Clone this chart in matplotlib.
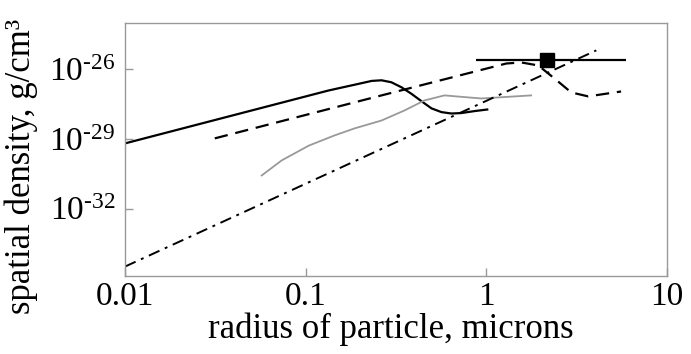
import matplotlib
matplotlib.use("Agg")
import matplotlib.pyplot as plt
from matplotlib.ticker import FixedLocator, FuncFormatter
import numpy as np

plt.rcParams['font.family'] = ['Liberation Serif', 'DejaVu Serif']
plt.rcParams['mathtext.fontset'] = 'custom'
plt.rcParams['mathtext.rm'] = 'Liberation Serif'
plt.rcParams['mathtext.it'] = 'Liberation Serif'

# solid black curve
solid_x = [0.01, 0.134, 0.187, 0.232, 0.263, 0.298, 0.339, 0.385, 0.437, 0.497, 0.564, 0.641, 0.728, 0.859, 1.026]
solid_y = [6.5e-30, 1.24e-27, 2.2e-27, 3.2e-27, 3.4e-27, 2.8e-27, 1.7e-27, 8.9e-28, 4.3e-28, 2.1e-28, 1.45e-28, 1.26e-28, 1.32e-28, 1.6e-28, 1.9e-28]

# dashed curve
dash_x = [0.0314, 0.263, 1.29, 1.56, 1.94, 2.38, 2.95, 3.66, 5.57]
dash_y = [1.07e-29, 7.6e-28, 1.8e-26, 2.0e-26, 1.48e-26, 4.1e-27, 1.02e-27, 6.9e-28, 1.12e-27]

# gray curve
gray_x = [0.0571, 0.0736, 0.104, 0.145, 0.187, 0.263, 0.352, 0.454, 0.586, 0.937, 1.77]
gray_y = [2.7e-31, 1.2e-30, 5.2e-30, 1.45e-29, 2.9e-29, 6.3e-29, 1.7e-28, 4.6e-28, 7.6e-28, 5.6e-28, 7.6e-28]

# dash-dot line
dd_x = [0.01, 4.06]
dd_y = [3.2e-35, 6.6e-26]

# measured point with horizontal range
pt_x = [2.17]
pt_y = [2.45e-26]
pt_xlo = [0.88]
pt_xhi = [5.93]

xticks = [0.01, 0.1, 1, 10]
xticklabels = ["0.01", "0.1", "1", "10"]
yticks = [1e-32, 1e-29, 1e-26]

fig = plt.figure(figsize=(6.91, 3.54), dpi=100)
ax = fig.add_axes([125 / 691, 1 - 276 / 354, (667 - 125) / 691, (276 - 23) / 354])
ax.set_xscale('log')
ax.set_yscale('log')
ax.set_xlim(0.01, 10)
ax.set_ylim(10**-34.9, 10**-24.0)

ax.plot(solid_x, solid_y, color='black', lw=1.6, solid_capstyle='butt')
ax.plot(dash_x, dash_y, color='black', lw=1.6, dashes=(6, 3.5))
ax.plot(gray_x, gray_y, color='#999999', lw=1.3)
ax.plot(dd_x, dd_y, color='black', lw=1.4, dashes=(6, 3, 1.5, 3))
ax.hlines(pt_y, pt_xlo, pt_xhi, color='black', lw=1.6)
ax.plot(pt_x, pt_y, marker='s', color='black', ms=9.5, ls='none')

for s in ax.spines.values():
    s.set_color('#999999')
    s.set_linewidth(1.0)

ax.xaxis.set_major_locator(FixedLocator(xticks))
ax.set_xticklabels(xticklabels)
ax.xaxis.set_minor_locator(FixedLocator([]))
ax.yaxis.set_major_locator(FixedLocator(yticks))
ax.yaxis.set_minor_locator(FixedLocator([]))
ax.yaxis.set_major_formatter(FuncFormatter(lambda v, p: r"$10^{\text{%d}}$" % int(round(np.log10(v)))))
ax.tick_params(axis='both', direction='in', length=6, color='#999999', width=1.0, labelsize=24, pad=4)
ax.tick_params(axis='y', pad=7)

ax.set_xlabel("radius of particle, microns", fontsize=25)
ax.set_ylabel("spatial density, g/cm³", fontsize=25)
ax.xaxis.set_label_coords(0.49, -0.145)
ax.yaxis.set_label_coords(-0.16, 0.435)

fig.savefig("out.png", dpi=100)
